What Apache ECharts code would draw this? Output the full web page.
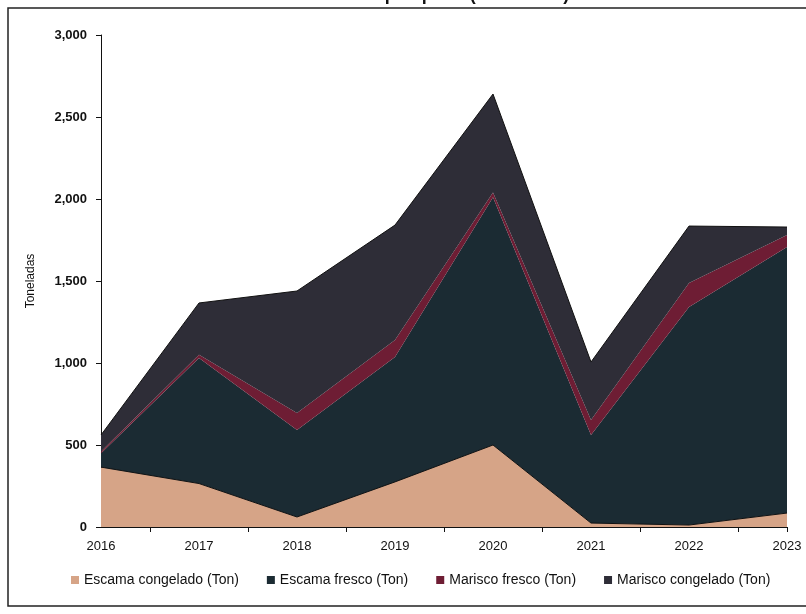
<!DOCTYPE html>
<html>
<head>
<meta charset="utf-8">
<script src="https://cdn.jsdelivr.net/npm/echarts@6/dist/echarts.min.js"></script>
<style>html,body{margin:0;padding:0;background:#fff;}#c{width:806px;height:614px;}</style>
</head>
<body>
<div id="c"></div>
<script>
const years = ['2016','2017','2018','2019','2020','2021','2022','2023'];
const escamaCongelado = [365, 265, 61, 275, 500, 24, 12, 85];
const escamaFresco    = [85, 765, 530, 762, 1510, 537, 1329, 1622];
const mariscoFresco   = [10, 20, 104, 103, 30, 91, 147, 73];
const mariscoCongelado= [101, 316, 744, 701, 600, 354, 347, 49];
const yTicks = [0, 500, 1000, 1500, 2000, 2500, 3000];
const titleText = 'Producción pesquera (Toneladas)';
const seriesNames = ['Escama congelado (Ton)','Escama fresco (Ton)','Marisco fresco (Ton)','Marisco congelado (Ton)'];

const colors = ['#d6a487', '#1b2b33', '#6e1d34', '#2e2d37'];
const font = "'Liberation Sans', Arial, sans-serif";

const chart = echarts.init(document.getElementById('c'), null, {renderer: 'canvas'});
const dataSets = [escamaCongelado, escamaFresco, mariscoFresco, mariscoCongelado];
const series = dataSets.map((d, i) => ({
  name: seriesNames[i],
  type: 'line',
  stack: 'total',
  data: d,
  symbol: 'none',
  lineStyle: { width: (i === 0 || i === 3) ? 1 : 0, color: '#111' },
  areaStyle: { color: colors[i], opacity: 1 },
  itemStyle: { color: colors[i] },
  z: 2
}));

chart.setOption({
  animation: false,
  backgroundColor: '#fff',
  title: {
    text: titleText,
    left: 420, top: -19, textAlign: 'center',
    textStyle: { fontSize: 18, fontWeight: 'bold', color: '#111', fontFamily: font }
  },
  graphic: [{
    type: 'rect', shape: { x: 8, y: 8, width: 820, height: 598 },
    style: { fill: 'none', stroke: '#222', lineWidth: 1.5 }, silent: true, z: 100
  }],
  legend: {
    bottom: 22, left: 66,
    itemWidth: 8, itemHeight: 8, itemGap: 28,
    icon: 'rect',
    textStyle: { fontSize: 14, color: '#111', fontFamily: font },
    data: seriesNames
  },
  grid: { left: 101, right: 19, top: 35, bottom: 87 },
  xAxis: [{
    type: 'category', data: years, boundaryGap: false,
    axisLine: { show: true, lineStyle: { color: '#111', width: 1 } },
    axisTick: { show: false },
    axisLabel: { color: '#111', fontSize: 13, margin: 13, fontFamily: font }
  }, {
    type: 'value', min: 0, max: 7, position: 'bottom',
    axisLine: { show: false },
    axisLabel: { show: false },
    splitLine: { show: false },
    axisTick: { show: true, length: 5, lineStyle: { color: '#111' },
      customValues: [0.5, 1.5, 2.5, 3.5, 4.5, 5.5, 6.5, 7] }
  }],
  yAxis: {
    type: 'value', min: yTicks[0], max: yTicks[yTicks.length - 1], interval: 500,
    name: 'Toneladas', nameLocation: 'middle', nameGap: 64,
    nameTextStyle: { fontSize: 12, color: '#111', fontFamily: font },
    axisLine: { show: true, lineStyle: { color: '#111', width: 1 } },
    axisTick: { show: true, length: 5, lineStyle: { color: '#111' } },
    splitLine: { show: false },
    axisLabel: { color: '#111', fontSize: 13, fontWeight: 'bold', margin: 14, fontFamily: font,
      formatter: v => v.toLocaleString('en-US') }
  },
  series: series
});
</script>
</body>
</html>
